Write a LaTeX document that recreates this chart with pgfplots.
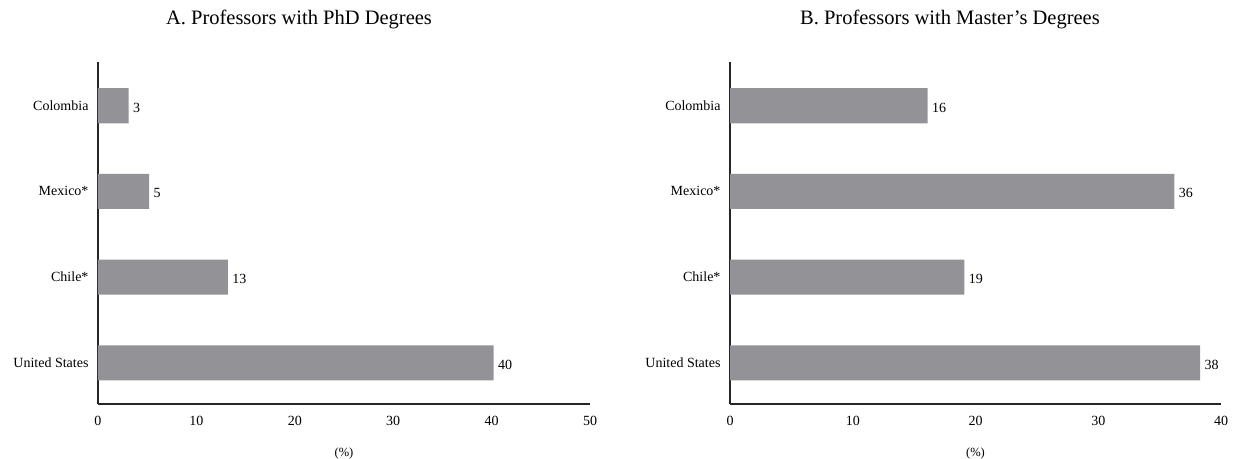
\documentclass[border=0pt]{standalone}
\usepackage{fontspec}
\setmainfont{Liberation Serif}
\usepackage{pgfplots}
\pgfplotsset{compat=1.18}
\definecolor{bargray}{RGB}{147,147,151}
\newcommand{\ticksize}{\fontsize{14}{16}\selectfont}
\pgfplotsset{panel/.style={
  scale only axis, height=342pt,
  xbar, bar width=0.41, bar shift=0pt,
  ymin=-0.48, ymax=3.51,
  ytick={0,1,2,3},
  yticklabels={United States,Chile*,Mexico*,Colombia},
  axis x line*=bottom, axis y line*=left,
  axis line style={line width=1.2pt, black!85},
  major tick length=0pt,
  xmin=0,
  ticklabel style={font=\ticksize},
  /pgf/number format/assume math mode=true,
  xticklabel style={yshift=-9pt},
  yticklabel style={xshift=-6pt},
  xlabel={(\%)},
  xlabel style={font=\fontsize{12.5}{14}\selectfont, at={(axis description cs:0.5,0)}, anchor=center, yshift=-49pt},
  nodes near coords,
  point meta=explicit symbolic,
  every node near coord/.append style={anchor=west, font=\ticksize, xshift=1pt, yshift=-2pt},
}}
\begin{document}
\begin{tikzpicture}
\useasboundingbox (0,0) rectangle (1240pt,458pt);
\node[font=\fontsize{20.5}{23}\selectfont] at (299pt,439pt) {A. Professors with PhD Degrees};
\node[font=\fontsize{20.5}{23}\selectfont] at (950pt,439pt) {B. Professors with Master’s Degrees};
\begin{axis}[panel, at={(98pt,54pt)}, anchor=south west, width=492pt,
  xmax=50, xtick={0,10,20,30,40,50}]
\addplot[fill=bargray, draw=none] table[meta=lab] {
x y lab
40.2 0 40
13.2 1 13
5.2 2 5
3.1 3 3
};
\end{axis}
\begin{axis}[panel, at={(730pt,54pt)}, anchor=south west, width=491pt,
  xmax=40, xtick={0,10,20,30,40}]
\addplot[fill=bargray, draw=none] table[meta=lab] {
x y lab
38.3 0 38
19.1 1 19
36.2 2 36
16.1 3 16
};
\end{axis}
\end{tikzpicture}
\end{document}
